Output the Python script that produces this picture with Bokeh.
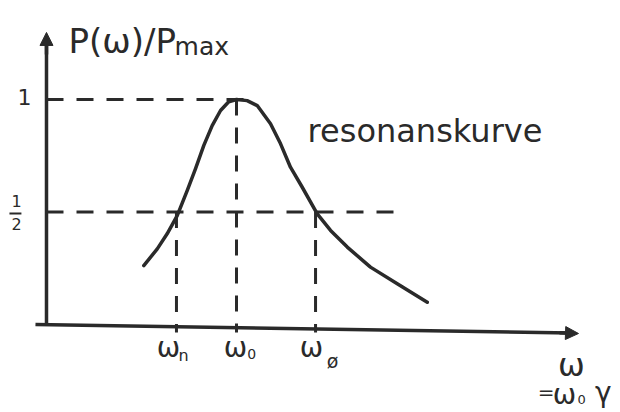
from bokeh.plotting import figure
from bokeh.models import Arrow, NormalHead, Range1d, ColumnDataSource
from bokeh.core.properties import value
from bokeh.embed import file_html
from bokeh.resources import INLINE

# ---- data (omega in units of omega_0, power relative to P_max) ----
curve_w = [0.512, 0.583, 0.635, 0.688, 0.741, 0.784, 0.828, 0.872, 0.916,
           0.959, 1.000, 1.056, 1.109, 1.179, 1.232, 1.284, 1.346, 1.425,
           1.495, 1.583, 1.705, 1.846, 2.004]
curve_p = [0.262, 0.336, 0.403, 0.484, 0.596, 0.692, 0.796, 0.884, 0.951,
           0.990, 1.000, 0.995, 0.973, 0.892, 0.803, 0.699, 0.610, 0.492,
           0.418, 0.344, 0.255, 0.181, 0.099]
omega_n = 0.684
omega_0 = 1.0
omega_oe = 1.416
level_max = 1.0
level_half = 0.5
x_tick_main = ["ω", "ω", "ω"]
x_tick_sub = ["n", "0", "ø"]
y_tick_labels = ["1"]
frac_top, frac_bot = "1", "2"
title_main, title_sub = "P(ω)/P", "max"
curve_label = "resonanskurve"

INK = "#2a2a2a"
FONT = value("DejaVu Sans")

p = figure(width=620, height=412, output_backend="svg", toolbar_location=None,
           x_range=Range1d(-0.2421, 3.021), y_range=Range1d(-0.3911, 1.44),
           min_border=0, outline_line_color=None)
p.xaxis.visible = False
p.yaxis.visible = False
p.grid.visible = False
p.background_fill_color = "white"

# axes (hand-drawn style)
p.line([0, 0], [-0.005, 1.25], line_width=3.5, line_color=INK)
p.line([-0.058, 2.76], [0.0, -0.038], line_width=3.5, line_color=INK)
p.add_layout(Arrow(end=NormalHead(size=13, fill_color=INK, line_color=INK, line_width=1),
                   x_start=0, y_start=1.2, x_end=0, y_end=1.298,
                   line_width=3.5, line_color=INK))
p.add_layout(Arrow(end=NormalHead(size=13, fill_color=INK, line_color=INK, line_width=1),
                   x_start=2.7, y_start=-0.037, x_end=2.8, y_end=-0.04,
                   line_width=3.5, line_color=INK))

# dashed guide lines
p.line([0, 1.084], [level_max, level_max], line_width=3, line_color=INK, line_dash="17 13")
p.line([0, 1.89], [level_half, level_half], line_width=3, line_color=INK, line_dash="17 13")
for xv, ytop in [(omega_n, level_half), (omega_0, level_max), (omega_oe, level_half)]:
    p.line([xv, xv], [ytop, -0.035], line_width=3, line_color=INK, line_dash="16 12")

# resonance curve
src = ColumnDataSource(dict(w=curve_w, p=curve_p))
p.line("w", "p", source=src, line_width=3.5, line_color=INK, line_join="round", line_cap="round")

# y labels
p.text(x=[-0.116], y=[1.013], text=y_tick_labels, text_font=FONT, text_font_size="22px",
       text_color=INK, text_align="center", text_baseline="middle")
p.text(x=[-0.158], y=[0.547], text=[frac_top], text_font=FONT, text_font_size="16px",
       text_color=INK, text_align="center", text_baseline="middle")
p.text(x=[-0.158], y=[0.448], text=[frac_bot], text_font=FONT, text_font_size="16px",
       text_color=INK, text_align="center", text_baseline="middle")
p.line([-0.195, -0.132], [0.493, 0.493], line_width=2, line_color=INK)

# x tick labels
tick_x = [omega_n, omega_0, omega_oe]
main_dx = [-0.042, -0.005, -0.021]
sub_dx = [0.037, 0.080, 0.090]
sub_y = [-0.138, -0.129, -0.160]
sub_size = ["16px", "14px", "19px"]
p.text(x=[t + d for t, d in zip(tick_x, main_dx)], y=[-0.102] * 3, text=x_tick_main,
       text_font=FONT, text_font_size="28px", text_color=INK,
       text_align="center", text_baseline="middle")
for t, d, yy, s, lab in zip(tick_x, sub_dx, sub_y, sub_size, x_tick_sub):
    p.text(x=[t + d], y=[yy], text=[lab], text_font=FONT, text_font_size=s,
           text_color=INK, text_align="center", text_baseline="middle")

# x axis name
p.text(x=[2.763], y=[-0.178], text=["ω"], text_font=FONT, text_font_size="32px",
       text_color=INK, text_align="center", text_baseline="middle")
p.text(x=[2.63], y=[-0.300], text=["="], text_font=FONT, text_font_size="20px",
       text_color=INK, text_align="center", text_baseline="middle")
p.text(x=[2.726], y=[-0.310], text=["ω"], text_font=FONT, text_font_size="28px",
       text_color=INK, text_align="center", text_baseline="middle")
p.text(x=[2.816], y=[-0.334], text=["0"], text_font=FONT, text_font_size="13px",
       text_color=INK, text_align="center", text_baseline="middle")
p.text(x=[2.93], y=[-0.300], text=["γ"], text_font=FONT, text_font_size="28px",
       text_color=INK, text_align="center", text_baseline="middle")

# y axis name
p.text(x=[0.116], y=[1.262], text=[title_main], text_font=FONT, text_font_size="34px",
       text_color=INK, text_align="left", text_baseline="alphabetic")
p.text(x=[0.674], y=[1.236], text=[title_sub], text_font=FONT, text_font_size="25px",
       text_color=INK, text_align="left", text_baseline="alphabetic")

# curve name
p.text(x=[1.374], y=[0.858], text=[curve_label], text_font=FONT, text_font_size="32px",
       text_color=INK, text_align="left", text_baseline="alphabetic")

open("out.html", "w").write(file_html(p, INLINE))
